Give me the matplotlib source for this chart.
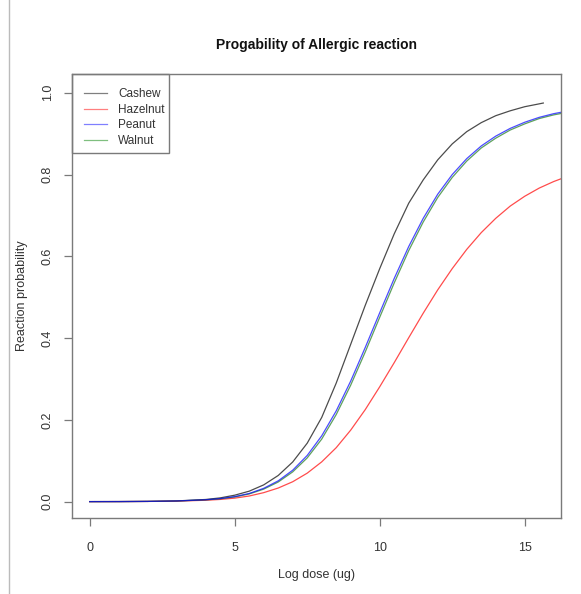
import matplotlib
matplotlib.use("Agg")
import matplotlib.pyplot as plt
from matplotlib.lines import Line2D
from matplotlib.patches import Rectangle

plt.rcParams['font.family'] = ['Liberation Sans', 'DejaVu Sans']

title = "Progability of Allergic reaction"
xlabel = "Log dose (ug)"
ylabel = "Reaction probability"
series_names = ["Cashew", "Hazelnut", "Peanut", "Walnut"]

cashew_x = [0, 1, 2, 3, 4, 4.5, 5, 5.5, 6, 6.5, 7, 7.5, 8, 8.5, 9, 9.5, 10,
            10.5, 11, 11.5, 12, 12.5, 13, 13.5, 14, 14.5, 15, 15.5, 15.64]
cashew_y = [0.0001, 0.0002, 0.0006, 0.0018, 0.0053, 0.0092, 0.0158, 0.0256,
            0.041, 0.064, 0.097, 0.143, 0.206, 0.290, 0.385, 0.480, 0.570,
            0.655, 0.730, 0.787, 0.836, 0.875, 0.905, 0.927, 0.944, 0.956,
            0.966, 0.973, 0.975]

peanut_x = [0, 1, 2, 3, 4, 4.5, 5, 5.5, 6, 6.5, 7, 7.5, 8, 8.5, 9, 9.5, 10,
            10.5, 11, 11.5, 12, 12.5, 13, 13.5, 14, 14.5, 15, 15.5, 16, 16.3]
peanut_y = [0.0001, 0.0002, 0.0006, 0.0017, 0.0046, 0.0075, 0.0123, 0.020,
            0.0326, 0.0509, 0.0769, 0.113, 0.161, 0.222, 0.295, 0.377, 0.462,
            0.546, 0.624, 0.693, 0.752, 0.800, 0.839, 0.870, 0.894, 0.913,
            0.928, 0.940, 0.949, 0.953]

walnut_x = [0, 1, 2, 3, 4, 4.5, 5, 5.5, 6, 6.5, 7, 7.5, 8, 8.5, 9, 9.5, 10,
            10.5, 11, 11.5, 12, 12.5, 13, 13.5, 14, 14.5, 15, 15.5, 16, 16.3]
walnut_y = [0.0001, 0.0002, 0.0006, 0.0016, 0.0043, 0.007, 0.0115, 0.0188,
            0.0306, 0.048, 0.0728, 0.107, 0.153, 0.213, 0.285, 0.366, 0.451,
            0.535, 0.614, 0.684, 0.744, 0.793, 0.833, 0.865, 0.889, 0.909,
            0.924, 0.937, 0.946, 0.950]

hazelnut_x = [0, 1, 2, 3, 4, 4.5, 5, 5.5, 6, 6.5, 7, 7.5, 8, 8.5, 9, 9.5, 10,
              10.5, 11, 11.5, 12, 12.5, 13, 13.5, 14, 14.5, 15, 15.5, 16, 16.3]
hazelnut_y = [0.0001, 0.0002, 0.0005, 0.0013, 0.0034, 0.0054, 0.0086, 0.0138,
              0.022, 0.0333, 0.0487, 0.0697, 0.0973, 0.132, 0.175, 0.225,
              0.281, 0.340, 0.401, 0.461, 0.518, 0.570, 0.617, 0.658, 0.693,
              0.723, 0.747, 0.767, 0.783, 0.791]

x_ticks = [0, 5, 10, 15]
y_ticks = [0.0, 0.2, 0.4, 0.6, 0.8, 1.0]
y_ticklabels = ["0.0", "0.2", "0.4", "0.6", "0.8", "1.0"]

W, H = 581, 594
ax_l, ax_r, ax_t, ax_b = 72, 560.7, 74, 518
fig = plt.figure(figsize=(W / 100, H / 100), dpi=100)
ax = fig.add_axes([ax_l / W, 1 - ax_b / H, (ax_r - ax_l) / W, (ax_b - ax_t) / H])

lw = 0.9
ax.plot(cashew_x, cashew_y, color="#000000", lw=lw, alpha=0.7)
ax.plot(hazelnut_x, hazelnut_y, color="#ff0000", lw=lw, alpha=0.7)
ax.plot(walnut_x, walnut_y, color="#1a7a1a", lw=lw, alpha=0.7)
ax.plot(peanut_x, peanut_y, color="#0000ff", lw=lw, alpha=0.7)

ax.set_xlim(-0.61, 16.24)
ax.set_ylim(-0.04, 1.046)

grey = "#7a7a7a"
txt = "#333333"
for s in ax.spines.values():
    s.set_color(grey)
    s.set_linewidth(1.0)

ax.set_xticks(x_ticks)
ax.set_xticklabels([str(t) for t in x_ticks])
ax.set_yticks(y_ticks)
ax.set_yticklabels(y_ticklabels, rotation=90, va="center")
ax.tick_params(axis="both", direction="out", length=6, width=0.9, color=grey,
               labelsize=9, labelcolor=txt)
ax.tick_params(axis="x", pad=11)
ax.tick_params(axis="y", pad=7)

ax.set_xlabel(xlabel, fontsize=9, color=txt, labelpad=11)
ax.set_ylabel(ylabel, fontsize=9, color=txt, labelpad=10)
fig.text(316 / W, 1 - 45 / H, title, ha="center", va="center",
         fontsize=10, fontweight="bold", color="#111111")

handles = [
    Line2D([], [], color="#000000", lw=lw, alpha=0.5),
    Line2D([], [], color="#ff0000", lw=lw, alpha=0.5),
    Line2D([], [], color="#0000ff", lw=lw, alpha=0.5),
    Line2D([], [], color="#008000", lw=lw, alpha=0.5),
]
axh = ax_b - ax_t
axw = ax_r - ax_l
leg = ax.legend(handles, series_names, loc="upper left",
                bbox_to_anchor=(0, 1 - 2 / axh),
                borderaxespad=0, frameon=False,
                fontsize=8.5, handlelength=1.9, handletextpad=0.95,
                labelspacing=0.3, borderpad=1.05)
for t in leg.get_texts():
    t.set_color(txt)

# legend box (R style: tight on the right)
box_w, box_h = 169 - ax_l, 153 - ax_t
ax.add_patch(Rectangle((0, 1 - box_h / axh), box_w / axw, box_h / axh,
                       transform=ax.transAxes, facecolor="none",
                       edgecolor=grey, lw=1.0, zorder=5, clip_on=False))

fig.add_artist(Line2D([9 / W, 9 / W], [0, 1], color="#bbbbbb", lw=1.0,
                      transform=fig.transFigure))

fig.savefig("out.png", dpi=100)
